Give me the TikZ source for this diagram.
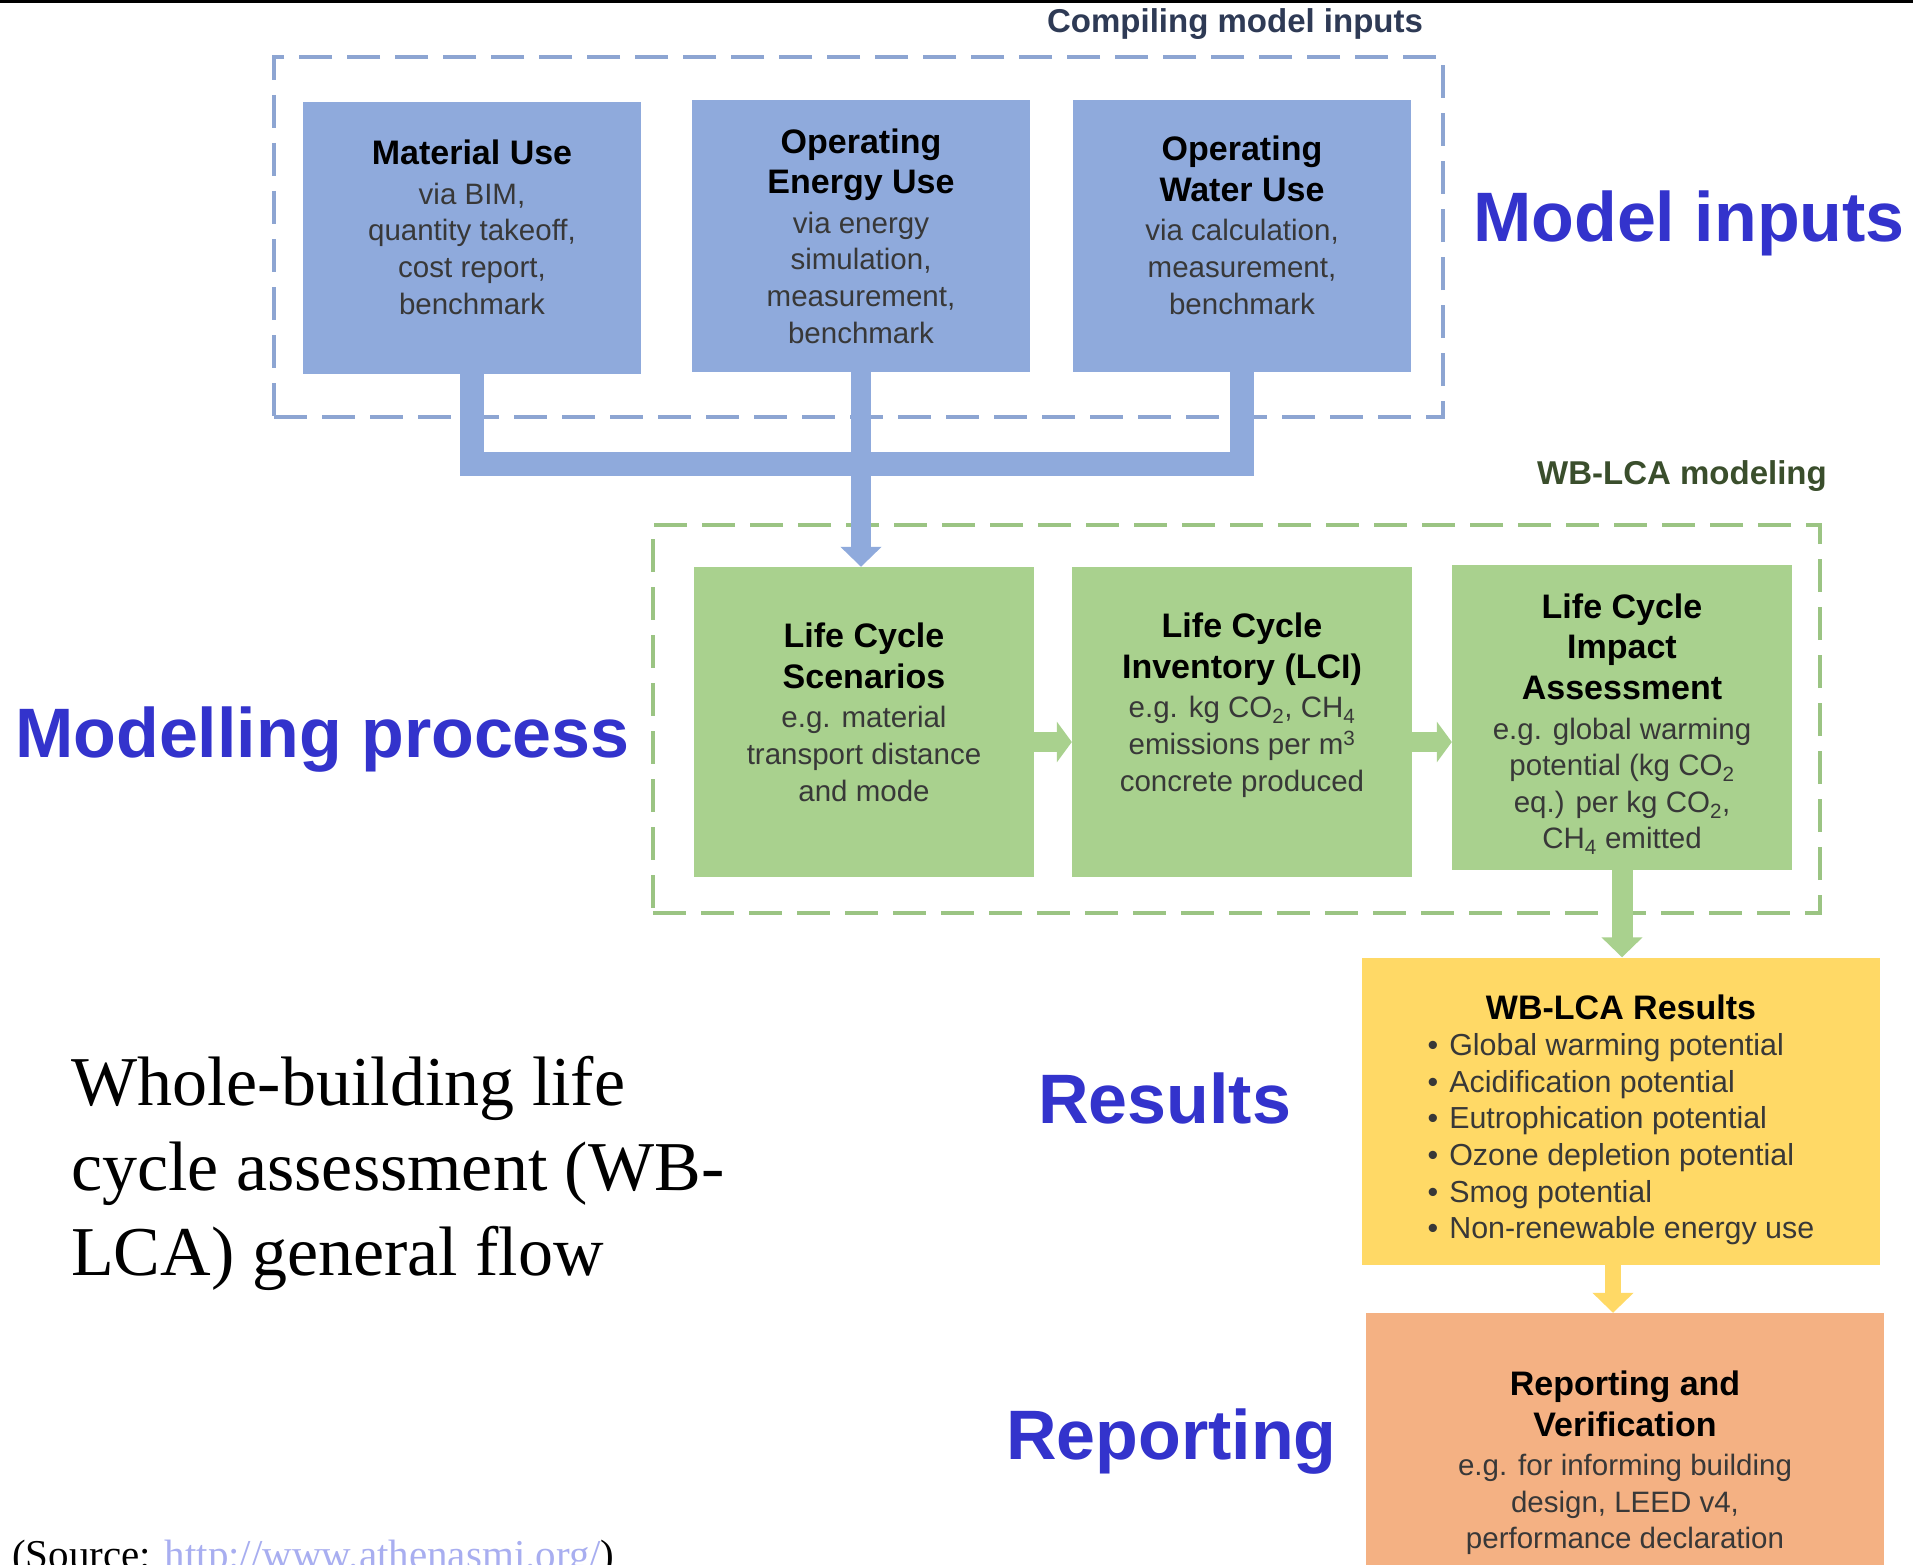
\documentclass[tikz,border=0pt]{standalone}
\usepackage{fontspec}
\setmainfont{Liberation Sans}
\newfontfamily\serifface{Liberation Serif}
\usetikzlibrary{arrows.meta, positioning}

\definecolor{inblue}{HTML}{8FAADC}
\definecolor{indash}{HTML}{8DA5D2}
\definecolor{procgreen}{HTML}{A9D18E}
\definecolor{procdash}{HTML}{9BC483}
\definecolor{resyellow}{HTML}{FFD966}
\definecolor{reporange}{HTML}{F4B183}
\definecolor{tagblue}{HTML}{3333CC}
\definecolor{inhead}{HTML}{2E3A55}
\definecolor{prochead}{HTML}{3A4E2C}
\definecolor{linkblue}{HTML}{A8AEF0}

\newcommand{\boxhead}{\fontsize{34}{36.6}\selectfont\bfseries\color{black}}
\newcommand{\boxbody}{\fontsize{29.5}{36.6}\selectfont}

\begin{document}
\begin{tikzpicture}[
    x=1pt, y=-1pt,
    inbox/.style={fill=inblue, align=center, inner sep=0pt, font=\boxbody, text=black!78, minimum width=338pt, minimum height=272pt},
    procbox/.style={fill=procgreen, align=center, inner sep=0pt, font=\boxbody, text=black!78, minimum width=340pt, minimum height=310pt},
    outbox/.style={align=center, inner sep=0pt, font=\boxbody, text=black!78, minimum width=518pt, minimum height=304pt},
    groupline/.style={line width=4pt, dash pattern=on 33pt off 15pt, inner sep=0pt},
    grouptitle/.style={font=\fontsize{33}{38}\selectfont\bfseries, inner sep=0pt},
    bigtag/.style={text=tagblue, font=\fontsize{70}{84}\selectfont\bfseries, anchor=base west, inner sep=0pt},
    bigarrow/.style={-{Triangle[width=40pt, length=20pt]}}
]
\useasboundingbox (0,0) rectangle (1913,1565);
\fill[white] (0,0) rectangle (1913,1565);
\draw[line width=3pt] (0,1.5) -- (1913,1.5);

% dashed groups
\node[groupline, draw=indash, minimum width=1169pt, minimum height=360pt] (inputs) at (858.5,237) {};
\node[groupline, draw=procdash, minimum width=1167pt, minimum height=388pt] (modeling) at (1236.5,719) {};
\node[grouptitle, text=inhead] (inputstitle) at (1235,24) {Compiling model inputs};
\node[grouptitle, text=prochead] (modelingtitle) at (1682,476) {WB-LCA modeling};

% model inputs
\node[inbox, text depth=22pt] (matuse) at (472,238) {\boxhead Material Use\\[3pt]via BIM,\\quantity takeoff,\\cost report,\\benchmark};
\node[inbox] (energy) at (861,236) {\boxhead Operating\\[4pt]\boxhead Energy Use\\[3pt]via energy\\simulation,\\measurement,\\benchmark};
\node[inbox, text depth=22pt] (water) at (1242,236) {\boxhead Operating\\[4pt]\boxhead Water Use\\[3pt]via calculation,\\measurement,\\benchmark};

% modelling
\node[procbox, text depth=20pt] (lcs) at (864,722) {\boxhead Life Cycle\\[4pt]\boxhead Scenarios\\[3pt]e.g. material\\transport distance\\and mode};
\node[procbox, text depth=40pt] (lci) at (1242,722) {\boxhead Life Cycle\\[4pt]\boxhead Inventory (LCI)\\[3pt]e.g. kg CO\textsubscript{2}, CH\textsubscript{4}\\emissions per m\textsuperscript{3}\\concrete produced};
\node[procbox, minimum height=305pt] (lcia) at (1622,717) {\boxhead\rule{0pt}{39pt}Life Cycle\\[4pt]\boxhead Impact\\[4pt]\boxhead Assessment\\[3pt]e.g. global warming\\potential (kg CO\textsubscript{2}\\eq.) per kg CO\textsubscript{2},\\CH\textsubscript{4} emitted};

% results and reporting
\node[outbox, fill=resyellow, minimum height=307pt, text depth=172pt] (results) at (1621,1111) {\boxhead WB-LCA Results\\[0pt]\fontsize{30.4}{36.6}\selectfont\begin{tabular}[t]{@{}l@{}}
•\hspace{11pt}Global warming potential\\
•\hspace{11pt}Acidification potential\\
•\hspace{11pt}Eutrophication potential\\
•\hspace{11pt}Ozone depletion potential\\
•\hspace{11pt}Smog potential\\
•\hspace{11pt}Non-renewable energy use
\end{tabular}};
\node[outbox, fill=reporange, minimum height=300pt] (report) at (1625,1463) {\boxhead Reporting and\\[4pt]\boxhead Verification\\[3pt]e.g. for informing building\\design, LEED v4,\\performance declaration};

% stage tags
\node[bigtag] (tagin) at (1473,241) {Model inputs};
\node[bigtag] (tagproc) at (15,757) {Modelling process};
\node[bigtag] (tagres) at (1038,1123) {Results};
\node[bigtag] (tagrep) at (1006,1459) {Reporting};

\node[anchor=north west, inner sep=0pt, align=left, font=\serifface\fontsize{70}{85}\selectfont] (caption) at (71,1056) {Whole-building life\\cycle assessment (WB-\\LCA) general flow};
\node[anchor=base west, inner sep=0pt, font=\serifface\fontsize{41}{48}\selectfont] (source) at (12,1568) {(Source: \textcolor{linkblue}{http://www.athenasmi.org/})};

% connectors
\coordinate (merge) at (861,464);
\draw[inblue, line width=24pt] (matuse.south) |- (merge) -| (water.south);
\draw[inblue, line width=20pt, bigarrow] (energy.south) -- (energy.south |- lcs.north);
\draw[procgreen, line width=20pt, -{Triangle[width=40pt, length=15pt]}] ([yshift=-20pt]lcs.east) -- ([yshift=-20pt]lci.west);
\draw[procgreen, line width=20pt, -{Triangle[width=40pt, length=15pt]}] ([yshift=-20pt]lci.east) -- ([yshift=-20pt]lci.east -| lcia.west);
\draw[procgreen, line width=21pt, bigarrow] (lcia.south) -- (lcia.south |- results.north);
\draw[resyellow, line width=16pt, bigarrow] ([xshift=-8pt]results.south) -- ([xshift=-8pt]results.south |- report.north);

\end{tikzpicture}
\end{document}
